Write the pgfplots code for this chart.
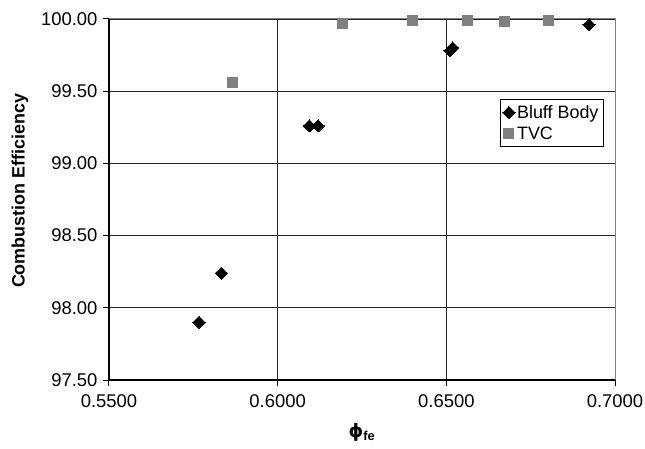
\documentclass[border=0pt]{standalone}
\usepackage{pgfplots}
\pgfplotsset{compat=1.18}
\usepackage{fontspec}
\setmainfont{Liberation Sans}
\newfontfamily\dejavu{DejaVu Sans}
\newcommand{\chf}{\fontsize{18.5}{22}\selectfont}
\newcommand{\lgf}{\fontsize{18}{22}\selectfont}
\begin{document}
\begin{tikzpicture}
\path[use as bounding box] (-109bp,-69bp) rectangle (536bp,380bp);
\begin{axis}[
  at={(0,0)}, anchor=south west,
  scale only axis, width=506bp, height=361bp,
  xmin=0.55, xmax=0.70, ymin=97.5, ymax=100,
  xtick={0.55,0.60,0.65,0.70},
  xticklabels={0.5500,0.6000,0.6500,0.7000},
  ytick={97.5,98,98.5,99,99.5,100},
  yticklabels={97.50,98.00,98.50,99.00,99.50,100.00},
  axis x line*=bottom, axis y line*=left,
  axis line style={-, black, line width=1.1bp},
  tick align=outside, major tick length=6bp,
  tick style={black, line width=1bp},
  grid=major, major grid style={black!85, line width=0.9bp},
  xticklabel style={font=\chf, yshift=-5bp},
  yticklabel style={font=\chf, xshift=-2bp},
  xlabel={{\dejavu\bfseries ϕ}\textsubscript{\textbf{fe}}},
  ylabel={Combustion Efficiency},
  xlabel style={font=\chf\bfseries, at={(axis description cs:0.5,-0.144)}, anchor=center},
  ylabel style={font=\lgf\bfseries, at={(axis description cs:-0.176,0.524)}, anchor=center},
  clip=false,
  legend style={at={(0.978,0.779)}, anchor=north east, draw=black, line width=0.8bp,
    fill=white, font=\lgf, inner xsep=3bp, inner ysep=4bp, row sep=3bp},
  legend cell align=left,
]
\addplot[only marks, mark=square*, mark size=4.3bp, mark options={rotate=45, fill=black, draw=black, line width=0pt}]
  coordinates {(0.5767,97.90) (0.5833,98.24) (0.6094,99.26) (0.6120,99.26) (0.6511,99.78) (0.6519,99.80) (0.6923,99.96)};
\addlegendentry{Bluff Body}
\addplot[only marks, mark=square*, mark size=5bp, mark options={fill=black!50, draw=black!50, line width=0pt}]
  coordinates {(0.5865,99.56) (0.6191,99.97) (0.6399,99.99) (0.6564,99.99) (0.6671,99.98) (0.6804,99.99)};
\addlegendentry{TVC}
\draw[black!50, line width=1bp] (rel axis cs:0,1) -- (rel axis cs:1,1) -- (rel axis cs:1,0);
\end{axis}
\end{tikzpicture}
\end{document}
